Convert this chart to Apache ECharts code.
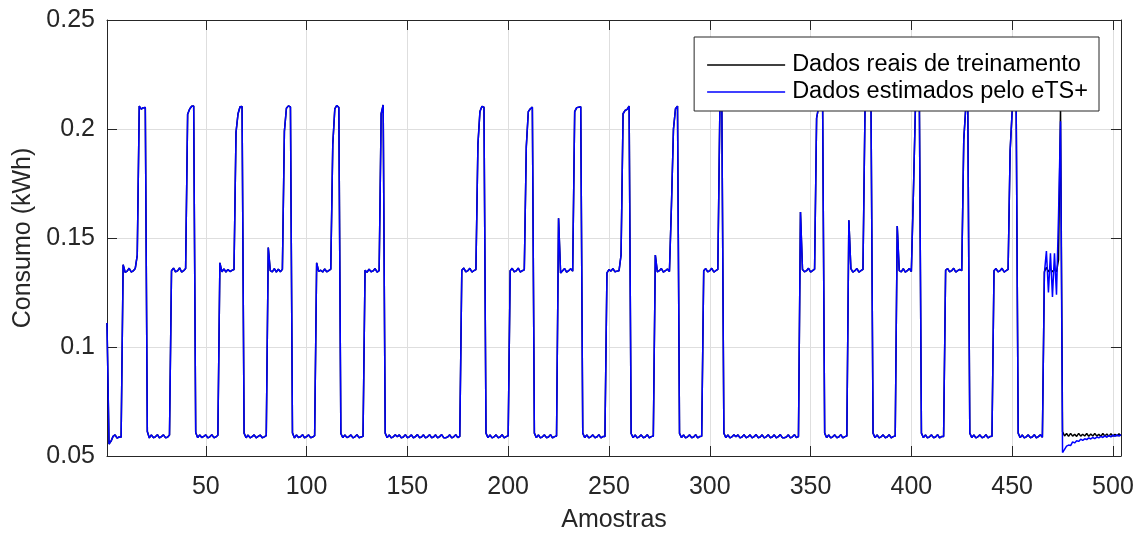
<!DOCTYPE html>
<html>
<head>
<meta charset="utf-8">
<script src="https://cdn.jsdelivr.net/npm/echarts@6/dist/echarts.min.js"></script>
<style>
  html, body { margin: 0; padding: 0; background: #ffffff; }
  #chart { width: 1143px; height: 538px; }
</style>
</head>
<body>
<div id="chart"></div>
<script>
// Sample index starts at 1 ("Amostras"), one value per sample (504 samples)
const seriesNames = ['Dados reais de treinamento', 'Dados estimados pelo eTS+'];
const xTicks = [50, 100, 150, 200, 250, 300, 350, 400, 450, 500];
const yTicks = [0.05, 0.1, 0.15, 0.2, 0.25];

const realData = [
  0.1110, 0.0555, 0.0568, 0.0590, 0.0597, 0.0582, 0.0587, 0.0586, 0.1377, 0.1343, 0.1348, 0.1361, 0.1344, 0.1349, 0.1360, 0.1420, 0.2105, 0.2091, 0.2098, 0.2099, 0.0612, 0.0583, 0.0597, 0.0584,
  0.0588, 0.0598, 0.0583, 0.0589, 0.0597, 0.0584, 0.0586, 0.0596, 0.1350, 0.1362, 0.1345, 0.1349, 0.1363, 0.1344, 0.1350, 0.1360, 0.2068, 0.2092, 0.2104, 0.2106, 0.0608, 0.0584, 0.0597, 0.0585,
  0.0590, 0.0597, 0.0583, 0.0588, 0.0598, 0.0584, 0.0587, 0.0595, 0.1386, 0.1345, 0.1358, 0.1344, 0.1356, 0.1346, 0.1352, 0.1355, 0.1985, 0.2070, 0.2102, 0.2103, 0.0605, 0.0584, 0.0596, 0.0583,
  0.0589, 0.0597, 0.0583, 0.0590, 0.0596, 0.0584, 0.0588, 0.0594, 0.1456, 0.1350, 0.1345, 0.1360, 0.1344, 0.1357, 0.1345, 0.1356, 0.1990, 0.2095, 0.2106, 0.2101, 0.0606, 0.0583, 0.0597, 0.0585,
  0.0588, 0.0598, 0.0583, 0.0589, 0.0597, 0.0584, 0.0587, 0.0593, 0.1386, 0.1347, 0.1352, 0.1344, 0.1358, 0.1345, 0.1350, 0.1357, 0.1930, 0.2092, 0.2108, 0.2099, 0.0603, 0.0584, 0.0597, 0.0584,
  0.0589, 0.0597, 0.0583, 0.0588, 0.0598, 0.0584, 0.0587, 0.0590, 0.1352, 0.1343, 0.1357, 0.1345, 0.1349, 0.1360, 0.1344, 0.1350, 0.2070, 0.2110, 0.0605, 0.0584, 0.0597, 0.0583, 0.0588, 0.0597,
  0.0588, 0.0597, 0.0583, 0.0587, 0.0598, 0.0584, 0.0588, 0.0597, 0.0583, 0.0589, 0.0598, 0.0584, 0.0587, 0.0597, 0.0583, 0.0588, 0.0598, 0.0584, 0.0587, 0.0597, 0.0583, 0.0589, 0.0598, 0.0584,
  0.0584, 0.0587, 0.0597, 0.0583, 0.0588, 0.0598, 0.0584, 0.0590, 0.1352, 0.1362, 0.1345, 0.1350, 0.1361, 0.1344, 0.1350, 0.1355, 0.1930, 0.2080, 0.2104, 0.2100, 0.0605, 0.0584, 0.0597, 0.0583,
  0.0588, 0.0597, 0.0584, 0.0587, 0.0598, 0.0583, 0.0589, 0.0593, 0.1350, 0.1361, 0.1345, 0.1349, 0.1362, 0.1344, 0.1350, 0.1354, 0.1920, 0.2080, 0.2093, 0.2100, 0.0605, 0.0584, 0.0597, 0.0583,
  0.0588, 0.0597, 0.0584, 0.0587, 0.0598, 0.0583, 0.0589, 0.0592, 0.1590, 0.1340, 0.1350, 0.1360, 0.1344, 0.1350, 0.1359, 0.1348, 0.2080, 0.2098, 0.2100, 0.2102, 0.0605, 0.0584, 0.0597, 0.0583,
  0.0588, 0.0597, 0.0584, 0.0587, 0.0598, 0.0583, 0.0589, 0.0590, 0.1340, 0.1355, 0.1348, 0.1360, 0.1345, 0.1348, 0.1350, 0.1422, 0.2070, 0.2085, 0.2090, 0.2105, 0.0603, 0.0584, 0.0597, 0.0583,
  0.0588, 0.0597, 0.0584, 0.0587, 0.0598, 0.0583, 0.0589, 0.0592, 0.1422, 0.1345, 0.1350, 0.1360, 0.1344, 0.1350, 0.1358, 0.1346, 0.1650, 0.2000, 0.2093, 0.2105, 0.0604, 0.0584, 0.0597, 0.0583,
  0.0588, 0.0597, 0.0584, 0.0587, 0.0598, 0.0583, 0.0589, 0.0591, 0.1350, 0.1360, 0.1345, 0.1350, 0.1361, 0.1344, 0.1350, 0.1356, 0.2080, 0.2100, 0.0605, 0.0584, 0.0597, 0.0583, 0.0588, 0.0597,
  0.0588, 0.0597, 0.0583, 0.0587, 0.0598, 0.0584, 0.0588, 0.0597, 0.0583, 0.0589, 0.0598, 0.0584, 0.0587, 0.0597, 0.0583, 0.0588, 0.0598, 0.0584, 0.0587, 0.0597, 0.0583, 0.0589, 0.0598, 0.0584,
  0.0584, 0.0587, 0.0597, 0.0583, 0.0588, 0.0598, 0.0584, 0.0589, 0.1619, 0.1355, 0.1345, 0.1350, 0.1361, 0.1344, 0.1350, 0.1357, 0.2050, 0.2100, 0.2105, 0.2100, 0.0605, 0.0584, 0.0597, 0.0583,
  0.0588, 0.0597, 0.0584, 0.0587, 0.0598, 0.0583, 0.0589, 0.0592, 0.1581, 0.1360, 0.1344, 0.1350, 0.1360, 0.1344, 0.1350, 0.1356, 0.2080, 0.2100, 0.2105, 0.2100, 0.0605, 0.0584, 0.0597, 0.0583,
  0.0588, 0.0597, 0.0584, 0.0587, 0.0598, 0.0583, 0.0589, 0.0592, 0.1555, 0.1350, 0.1345, 0.1360, 0.1344, 0.1350, 0.1360, 0.1346, 0.1700, 0.2090, 0.2105, 0.2100, 0.0605, 0.0584, 0.0597, 0.0583,
  0.0588, 0.0597, 0.0584, 0.0587, 0.0598, 0.0583, 0.0589, 0.0590, 0.1352, 0.1360, 0.1345, 0.1350, 0.1361, 0.1344, 0.1350, 0.1356, 0.1350, 0.1950, 0.2100, 0.2105, 0.0605, 0.0584, 0.0597, 0.0583,
  0.0588, 0.0597, 0.0584, 0.0587, 0.0598, 0.0583, 0.0589, 0.0591, 0.1350, 0.1360, 0.1345, 0.1350, 0.1361, 0.1344, 0.1350, 0.1356, 0.1900, 0.2080, 0.2100, 0.2105, 0.0605, 0.0584, 0.0597, 0.0583,
  0.0588, 0.0597, 0.0584, 0.0587, 0.0598, 0.0583, 0.0589, 0.0597, 0.0586, 0.1345, 0.1365, 0.1345, 0.1360, 0.1345, 0.1356, 0.1345, 0.1400, 0.2100, 0.0612, 0.0592, 0.0603, 0.0590, 0.0604, 0.0591,
  0.0600, 0.0590, 0.0604, 0.0591, 0.0600, 0.0592, 0.0603, 0.0590, 0.0601, 0.0592, 0.0603, 0.0591, 0.0600, 0.0590, 0.0603, 0.0592, 0.0601, 0.0590, 0.0602, 0.0591, 0.0600, 0.0592, 0.0602, 0.0593
];

// The blue eTS+ estimate lies on top of the real curve up to sample 465,
// and differs from it from sample 466 to 504 (values read from the blue curve)
const estimatedOverlapCount = 465;
const estimatedTail = [
  0.1340, 0.1440, 0.1250, 0.1430, 0.1230, 0.1430, 0.1240, 0.1600, 0.2035,
  0.0516, 0.0530, 0.0545, 0.0550, 0.0548, 0.0565, 0.0560, 0.0570, 0.0567, 0.0577,
  0.0572, 0.0579, 0.0575, 0.0583, 0.0578, 0.0585, 0.0580, 0.0587, 0.0583, 0.0590,
  0.0585, 0.0592, 0.0586, 0.0594, 0.0588, 0.0596, 0.0590, 0.0597, 0.0591, 0.0598
];
const estimatedData = realData.slice(0, estimatedOverlapCount).concat(estimatedTail);

const toPairs = arr => arr.map((v, i) => [i + 1, v]);

const FONT = "'Liberation Sans', Arial, Helvetica, sans-serif";
const AX = '#262626';
const GRID = '#dedede';

const chart = echarts.init(document.getElementById('chart'), null, { renderer: 'canvas' });

const xBase = {
  type: 'value', min: 1, max: 504,
  axisLine: { show: true, onZero: false, lineStyle: { color: AX, width: 1 } },
  axisTick: { show: true, inside: true, length: 10, customValues: xTicks, lineStyle: { color: AX, width: 1 } },
  minorTick: { show: false }
};
const yBase = {
  type: 'value', min: 0.05, max: 0.25, interval: 0.05,
  axisLine: { show: true, onZero: false, lineStyle: { color: AX, width: 1 } },
  axisTick: { show: true, inside: true, length: 10, lineStyle: { color: AX, width: 1 } }
};

chart.setOption({
  animation: false,
  backgroundColor: '#ffffff',
  textStyle: { fontFamily: FONT },
  grid: { left: 107, right: 22, top: 20, bottom: 79, containLabel: false },
  legend: {
    data: seriesNames,
    orient: 'vertical',
    right: 44,
    top: 37,
    backgroundColor: '#ffffff',
    borderColor: AX,
    borderWidth: 1,
    borderRadius: 0,
    padding: [16, 11, 7, 13],
    itemGap: 3,
    itemWidth: 78,
    itemHeight: 1.5,
    icon: 'rect',
    textStyle: { fontFamily: FONT, fontSize: 23.5, color: '#000000', padding: [0, 0, 0, 2] },
    selectedMode: false
  },
  xAxis: [
    Object.assign({}, xBase, {
      position: 'bottom',
      name: 'Amostras', nameLocation: 'middle', nameGap: 52,
      nameTextStyle: { fontFamily: FONT, fontSize: 25, color: AX },
      axisLabel: { show: true, customValues: xTicks, margin: 19, fontFamily: FONT, fontSize: 25, color: AX },
      splitLine: { show: true, lineStyle: { color: GRID, width: 1 } }
    }),
    Object.assign({}, xBase, {
      position: 'top',
      axisLabel: { show: false },
      splitLine: { show: false }
    })
  ],
  yAxis: [
    Object.assign({}, yBase, {
      position: 'left',
      name: 'Consumo (kWh)', nameLocation: 'middle', nameGap: 70, nameRotate: 90,
      nameTextStyle: { fontFamily: FONT, fontSize: 25, color: AX },
      axisLabel: {
        show: true, margin: 12, fontFamily: FONT, fontSize: 25, color: AX,
        formatter: v => String(parseFloat(v.toFixed(4)))
      },
      splitLine: { show: true, lineStyle: { color: GRID, width: 1 } }
    }),
    Object.assign({}, yBase, {
      position: 'right',
      axisLabel: { show: false },
      splitLine: { show: false }
    })
  ],
  series: [
    {
      name: seriesNames[0], type: 'line', xAxisIndex: 0, yAxisIndex: 0,
      data: toPairs(realData),
      showSymbol: false, symbol: 'none',
      lineStyle: { color: '#000000', width: 1.5 },
      itemStyle: { color: '#000000' },
      z: 2
    },
    {
      name: seriesNames[1], type: 'line', xAxisIndex: 0, yAxisIndex: 0,
      data: toPairs(estimatedData),
      showSymbol: false, symbol: 'none',
      lineStyle: { color: '#0000ff', width: 1.5 },
      itemStyle: { color: '#0000ff' },
      z: 3
    }
  ]
});
</script>
</body>
</html>
